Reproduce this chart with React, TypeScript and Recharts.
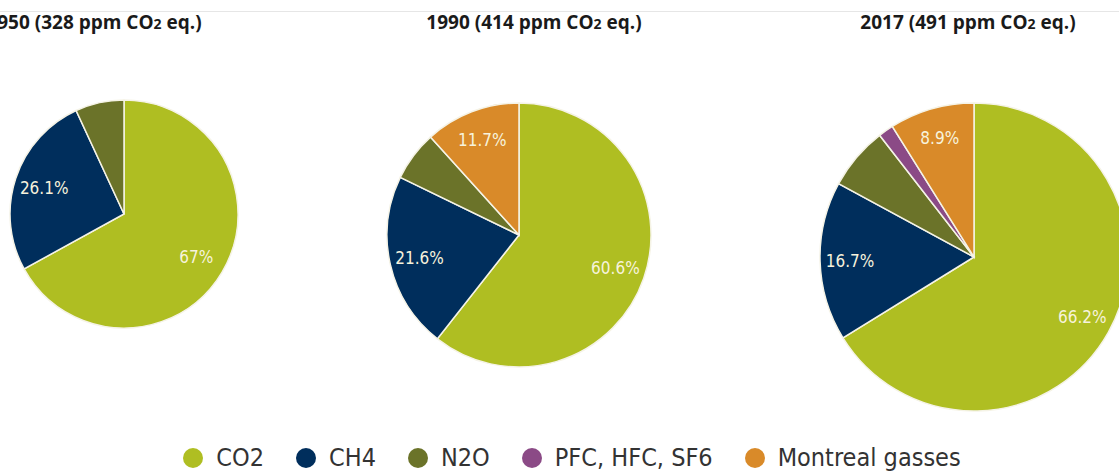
import React from "react";
import { Cell, Legend, Pie, PieChart } from "recharts";

const gases = ["CO2", "CH4", "N2O", "PFC, HFC, SF6", "Montreal gasses"];
const gasColors = ["#afbe22", "#002e5c", "#6b7329", "#8b4a86", "#d98a29"];

const years = ["1950", "1990", "2017"];
const ppm = [328, 414, 491];

// percentage share per gas, same order as `gases`
const share1950 = [67, 26.1, 6.9, 0, 0];
const share1990 = [60.6, 21.6, 6.1, 0, 11.7];
const share2017 = [66.2, 16.7, 6.6, 1.6, 8.9];

const shares = [share1950, share1990, share2017];

// pie placement (layout only)
const pieBoxes = [
  { cx: 124, cy: 214, r: 114, titleX: 94 },
  { cx: 519, cy: 235, r: 132, titleX: 534 },
  { cx: 974, cy: 257, r: 154, titleX: 968 },
];

const RADIAN = Math.PI / 180;
const labelFont = "'DejaVu Sans Condensed', 'DejaVu Sans', Verdana, sans-serif";

function toRows(values: number[]) {
  return gases
    .map((g, i) => ({ name: g, value: values[i], color: gasColors[i] }))
    .filter((d) => d.value > 0);
}

// Inside labels, 30px in from the rim; small slices get none.
function renderLabel(props: any) {
  const { cx, cy, midAngle, outerRadius, value } = props;
  if (value < 8) return null;
  const r = outerRadius - 30;
  const x = cx + r * Math.cos(-midAngle * RADIAN);
  const y = cy + r * Math.sin(-midAngle * RADIAN);
  return (
    <text
      x={x}
      y={y}
      fill="#f7f3dc"
      fontSize={17}
      fontFamily={labelFont}
      textAnchor="middle"
      dominantBaseline="central"
    >
      {`${value}%`}
    </text>
  );
}

function GasLegend() {
  return (
    <div
      style={{
        display: "flex",
        justifyContent: "center",
        alignItems: "center",
        gap: 32,
        fontFamily: labelFont,
        fontSize: 25,
        color: "#333",
        paddingLeft: 25,
      }}
    >
      {gases.map((g, i) => (
        <div key={g} style={{ display: "flex", alignItems: "center", gap: 13 }}>
          <svg width={20} height={20}>
            <circle cx={10} cy={10} r={10} fill={gasColors[i]} />
          </svg>
          <span>{g}</span>
        </div>
      ))}
    </div>
  );
}

export default function App() {
  return (
    <div
      style={{
        position: "absolute",
        left: 0,
        top: 0,
        width: 1119,
        height: 471,
        overflow: "hidden",
        background: "#fff",
      }}
    >
      <div
        style={{
          position: "absolute",
          left: 0,
          top: 11,
          width: 1119,
          borderTop: "1px solid #e6e6e6",
        }}
      />
      {years.map((y, i) => (
        <div
          key={y}
          style={{
            position: "absolute",
            left: pieBoxes[i].titleX,
            top: 9,
            transform: "translateX(-50%)",
            whiteSpace: "nowrap",
            fontFamily: "'Open Sans', sans-serif",
            fontWeight: 700,
            fontSize: 19,
            color: "#1a1a1a",
          }}
        >
          {y} ({ppm[i]} ppm CO<span style={{ fontSize: 14 }}>2</span> eq.)
        </div>
      ))}
      <PieChart width={1119} height={471} margin={{ top: 0, right: 0, bottom: 0, left: 0 }}>
        {shares.map((s, i) => (
          <Pie
            key={years[i]}
            data={toRows(s)}
            dataKey="value"
            nameKey="name"
            cx={pieBoxes[i].cx}
            cy={pieBoxes[i].cy}
            outerRadius={pieBoxes[i].r}
            startAngle={90}
            endAngle={-270}
            stroke="#f5f3e6"
            strokeWidth={1.5}
            label={renderLabel}
            labelLine={false}
            isAnimationActive={false}
          >
            {toRows(s).map((d) => (
              <Cell key={d.name} fill={d.color} />
            ))}
          </Pie>
        ))}
        <Legend
          content={() => <GasLegend />}
          wrapperStyle={{ position: "absolute", left: 0, top: 443, width: 1119 }}
        />
      </PieChart>
    </div>
  );
}
